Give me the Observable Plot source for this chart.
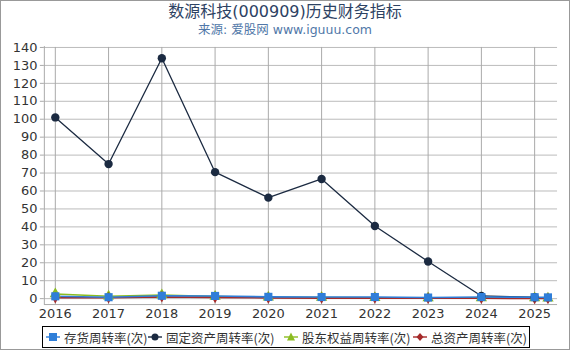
<!DOCTYPE html>
<html><head><meta charset="utf-8">
<script src="https://cdn.jsdelivr.net/npm/d3@7"></script>
<script src="https://cdn.jsdelivr.net/npm/@observablehq/plot@0.6"></script>
<style>
html,body{margin:0;padding:0;background:#fff;}
#wrap{position:relative;width:568px;height:348px;border:1px solid #999;overflow:hidden;font-family:"Noto Sans CJK SC","Noto Sans",sans-serif;}
#title{position:absolute;left:0;top:1px;width:568px;text-align:center;font-family:"DejaVu Sans","Noto Sans CJK SC",sans-serif;font-size:16px;color:#2d4263;line-height:19px;}
#sub{position:absolute;left:0;top:21px;width:568px;text-align:center;font-family:"DejaVu Sans","Noto Sans CJK SC",sans-serif;font-size:12.5px;color:#5077a8;line-height:15px;}
#chart{position:absolute;left:-1px;top:37px;}
#legend{position:absolute;left:41px;top:325px;width:486px;height:20px;border:1px solid #000;font-size:12.5px;color:#333;white-space:nowrap;background:#fff;}
#legend span{position:absolute;top:0;height:20px;display:flex;align-items:center;}
#legend svg{margin-right:4px;}
</style></head>
<body><div id="wrap">
<div id="title">数源科技(000909)历史财务指标</div>
<div id="sub">来源: 爱股网 www.iguuu.com</div>
<div id="chart"></div>
<div id="legend"></div>
</div>
<script>
const years = [2016, 2017, 2018, 2019, 2020, 2021, 2022, 2023, 2024, 2025, 2025.25];
const inventory = [1.3, 0.8, 1.6, 1.5, 1.0, 0.9, 0.9, 0.6, 0.9, 0.8, 0.7];
const fixedAsset = [101, 75, 134, 70.5, 56.3, 66.7, 40.5, 20.7, 1.5, 0.8, null];
const equity = [2.6, 1.3, 2.0, 1.2, 0.8, 0.6, 0.5, 0.4, 0.4, 0.3, 0.2];
const totalAsset = [0.5, 0.5, 1.0, 0.7, 0.4, 0.3, 0.3, 0.2, 0.2, 0.1, 0.05];
const seriesNames = ["存货周转率(次)", "固定资产周转率(次)", "股东权益周转率(次)", "总资产周转率(次)"];
const xTicks = [2016, 2017, 2018, 2019, 2020, 2021, 2022, 2023, 2024, 2025];
const yTicks = d3.range(0, 141, 10);

const colors = ["#2f7ed8", "#1b2a41", "#8bbc21", "#a52a2a"];
const symbols = ["square", "circle", "triangle", "diamond"];
const arrays = [inventory, fixedAsset, equity, totalAsset];
const rows = [];
arrays.forEach((arr, s) => arr.forEach((v, i) => { if (v != null) rows.push({x: years[i], y: v, s}); }));
const sel = s => rows.filter(d => d.s === s);

const order = [2, 3, 1, 0];
const marks = [
  Plot.gridY(yTicks, {stroke: "#bbb", strokeOpacity: 1, strokeWidth: 1}),
  Plot.ruleX([2015.794], {y1: -3.3, y2: 140.5, stroke: "#aaa"}),
  Plot.ruleY([-3.3], {stroke: "#aaa"}),
  Plot.tickX(xTicks, {x: d => d, y1: -3.3, y2: -5.5, stroke: "#aaa"})
];
for (const s of order) {
  marks.push(Plot.line(sel(s), {x: "x", y: "y", stroke: colors[s], strokeWidth: s === 1 ? 1.3 : 1.6}));
}
for (const s of order) {
  const r = s === 0 ? 4.6 : s === 1 ? 4.2 : s === 2 ? 4.2 : 3.5;
  marks.push(Plot.dot(sel(s), {x: "x", y: "y", symbol: () => symbols[s], fill: colors[s], stroke: "none", r}));
}

const chart = Plot.plot({
  width: 571, height: 289,
  marginLeft: 44, marginRight: 12, marginTop: 9, marginBottom: 22,
  style: {fontFamily: "'DejaVu Sans', sans-serif", fontSize: "13px", color: "#333", background: "transparent", overflow: "visible"},
  x: {domain: [2015.794, 2025.43], label: null},
  y: {domain: [-3.3, 140], label: null},
  symbol: {type: "identity"},
  marks: [
    ...marks,
    Plot.axisX({ticks: xTicks, tickFormat: d => String(d), tickSize: 0, tickPadding: 4, label: null}),
    Plot.axisY({ticks: yTicks, tickSize: 4, tickPadding: 3, label: null, stroke: "#aaa"})
  ]
});
document.getElementById("chart").appendChild(chart);

const legend = document.getElementById("legend");
const icons = [
  c => `<rect x="3" y="3" width="8" height="8" fill="${c}"/>`,
  c => `<circle cx="7" cy="7" r="3.5" fill="${c}"/>`,
  c => `<path d="M7 2.5 L11 10.5 L3 10.5 Z" fill="${c}"/>`,
  c => `<path d="M7 3 L10.5 7 L7 11 L3.5 7 Z" fill="${c}"/>`
];
const legendLeft = [3, 105, 241, 370];
seriesNames.forEach((n, i) => {
  const sp = document.createElement("span");
  sp.style.left = legendLeft[i] + "px";
  sp.innerHTML = `<svg width="14" height="14"><line x1="0" x2="14" y1="7" y2="7" stroke="${colors[i]}" stroke-width="2" stroke-opacity="0.7"/>${icons[i](colors[i])}</svg>${n}`;
  legend.appendChild(sp);
});
</script>
</body></html>
